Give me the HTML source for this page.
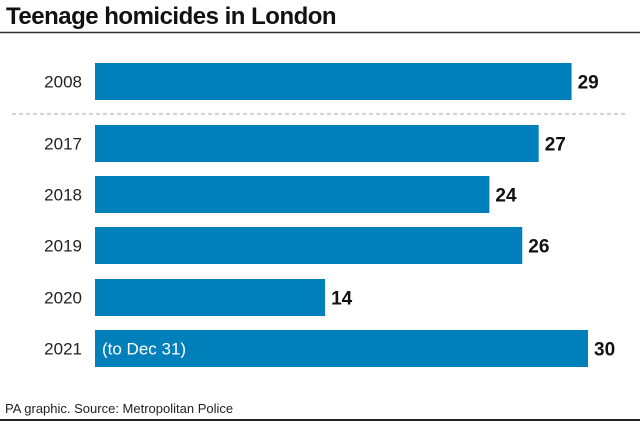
<!DOCTYPE html>
<html><head><meta charset="utf-8"><style>
body{margin:0;width:640px;height:422px;background:#fff;overflow:hidden;font-family:"Liberation Sans",sans-serif}
</style></head><body>
<svg width="640" height="422" xmlns="http://www.w3.org/2000/svg">
<text x="6" y="24" font-size="24" font-weight="bold" fill="#111" letter-spacing="-0.5">Teenage homicides in London</text>
<line x1="0" y1="32.5" x2="640" y2="32.5" stroke="#333" stroke-width="1.5"/>
<line x1="12" y1="114" x2="628" y2="114" stroke="#aaa" stroke-width="1" stroke-dasharray="4,3"/>
<g id="bars"></g>
<text x="5" y="413" font-size="13" fill="#222">PA graphic. Source: Metropolitan Police</text>
<line x1="0" y1="420" x2="640" y2="420" stroke="#222" stroke-width="2"/>
</svg>
<script>
const categories=["2008","2017","2018","2019","2020","2021"];
const values=[29,27,24,26,14,30];
const notes=["","","","","","(to Dec 31)"];
const tops=[63,125,176,227,279,330];
const x0=95, scale=(588-95)/30, bh=37;
const xs=v=>x0+v*scale;
const g=document.getElementById('bars');
const NS="http://www.w3.org/2000/svg";
categories.forEach((c,i)=>{
  const y=tops[i];
  const r=document.createElementNS(NS,'rect');
  r.setAttribute('x',x0);r.setAttribute('y',y);r.setAttribute('width',xs(values[i])-x0);r.setAttribute('height',bh);r.setAttribute('fill','#0080bb');
  
  
  g.appendChild(r);
  const t=document.createElementNS(NS,'text');
  t.setAttribute('x',82);t.setAttribute('y',y+bh/2+6);t.setAttribute('text-anchor','end');t.setAttribute('font-size','17');t.setAttribute('fill','#222');
  t.textContent=c;
  
  
  g.appendChild(t);
  const v=document.createElementNS(NS,'text');
  v.setAttribute('x',xs(values[i])+6);v.setAttribute('y',y+bh/2+7);v.setAttribute('font-size','19');v.setAttribute('font-weight','bold');v.setAttribute('fill','#111');
  v.textContent=values[i];
  
  
  g.appendChild(v);
  if(notes[i]){
    const n=document.createElementNS(NS,'text');
    n.setAttribute('x',102);n.setAttribute('y',y+bh/2+6);n.setAttribute('font-size','17');n.setAttribute('fill','#fff');
    n.textContent=notes[i];
    
    
    g.appendChild(n);
  }
});
</script>
</body></html>
